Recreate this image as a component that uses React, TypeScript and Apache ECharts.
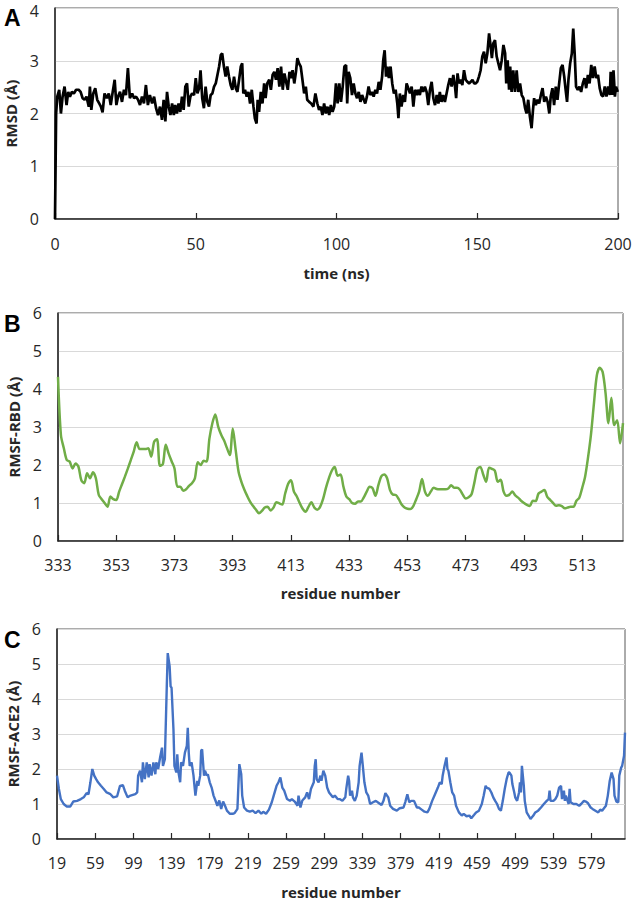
import React, { useEffect, useRef } from "react";
import * as echarts from "echarts";

// ---------- Panel A: RMSD over time ----------
const rmsdTime = [
  0, 0.4, 0.8, 1.5, 2.1, 2.7, 3.4, 4.1, 4.7, 5.3, 6.0, 6.7, 7.5, 8.4, 9.1, 9.8, 10.5, 11.2, 12.0, 12.4,
  12.9, 13.6, 14.3, 15.0, 15.7, 16.3, 16.9, 17.6, 18.4, 19.1, 19.8, 20.5, 21.2, 21.8, 22.4, 23.1, 23.8, 24.5, 25.2, 25.9,
  26.6, 27.4, 28.1, 28.8, 29.5, 30.2, 30.9, 31.6, 32.3, 33.0, 33.7, 34.5, 35.2, 35.9, 36.6, 37.3, 38.0, 38.6, 39.2, 39.8,
  40.4, 41.0, 41.6, 42.2, 42.7, 43.3, 43.9, 44.5, 45.1, 45.7, 46.3, 46.9, 47.5, 48.1, 48.7, 49.4, 50.0, 50.6, 51.2, 51.7,
  52.3, 52.9, 53.5, 54.1, 54.7, 55.3, 55.9, 56.5, 57.1, 57.7, 58.3, 58.9, 59.4, 60.0, 60.6, 61.2, 61.8, 62.4, 63.0, 63.6,
  64.2, 64.8, 65.4, 66.0, 66.5, 66.9, 67.5, 68.1, 68.7, 69.3, 69.9, 70.5, 71.0, 71.6, 72.0, 72.5, 73.1, 73.7, 74.3, 74.8,
  75.4, 76.1, 76.7, 77.3, 77.9, 78.5, 79.1, 79.7, 80.3, 80.9, 81.5, 82.1, 82.7, 83.3, 83.8, 84.4, 85.0, 85.6, 86.1, 86.7,
  87.3, 87.9, 88.5, 89.1, 89.6, 90.3, 91.0, 91.8, 92.5, 93.2, 93.8, 94.4, 95.0, 95.6, 96.2, 96.8, 97.4, 98.0, 98.6, 99.2,
  99.8, 100.4, 101.0, 101.6, 102.2, 102.8, 103.4, 103.8, 104.3, 104.9, 105.5, 106.1, 106.7, 107.3, 107.9, 108.5, 109.1, 109.7, 110.2, 110.8,
  111.4, 112.0, 112.6, 113.2, 113.8, 114.4, 115.0, 115.6, 116.2, 116.6, 117.1, 117.6, 118.1, 118.6, 119.2, 119.8, 120.4, 121.0, 121.6, 122.0,
  122.5, 123.1, 123.7, 124.3, 124.9, 125.5, 126.1, 126.7, 127.3, 127.9, 128.5, 129.0, 129.6, 130.2, 130.8, 131.4, 132.0, 132.6, 133.2, 133.8,
  134.4, 135.0, 135.6, 136.2, 136.7, 137.3, 137.9, 138.5, 139.1, 139.7, 140.3, 140.9, 141.5, 142.1, 142.5, 143.0, 143.5, 144.1, 144.7, 145.3,
  145.9, 146.5, 147.1, 147.7, 148.3, 148.9, 149.4, 150.0, 150.6, 151.2, 151.8, 152.4, 153.0, 153.6, 154.2, 154.7, 155.2, 155.7, 156.3, 156.9,
  157.5, 158.1, 158.7, 159.3, 159.9, 160.3, 160.8, 161.3, 161.7, 162.2, 162.8, 163.4, 164.0, 164.6, 165.2, 165.8, 166.4, 167.0, 167.5, 168.1,
  168.7, 169.3, 169.8, 170.2, 170.8, 171.4, 172.0, 172.6, 173.2, 173.8, 174.4, 175.0, 175.6, 176.1, 176.7, 177.3, 177.9, 178.5, 179.1, 179.7,
  180.3, 180.9, 181.4, 181.9, 182.4, 183.0, 183.6, 184.1, 184.6, 185.1, 185.7, 186.3, 186.9, 187.5, 188.1, 188.7, 189.3, 189.9, 190.5, 191.1,
  191.7, 192.3, 192.9, 193.5, 194.1, 194.7, 195.3, 195.9, 196.5, 197.1, 197.4, 197.9, 198.4, 198.9, 199.3, 199.9,
];
const rmsdValue = [
  0, 2.0, 2.32, 2.45, 2.0, 2.32, 2.51, 2.16, 2.41, 2.32, 2.41, 2.38, 2.45, 2.45, 2.41, 2.29, 2.26, 2.32, 2.13, 2.51,
  2.07, 2.38, 2.48, 2.26, 2.19, 2.13, 2.02, 2.38, 2.29, 2.38, 2.16, 2.41, 2.64, 2.16, 2.32, 2.41, 2.22, 2.45, 2.35, 2.86,
  2.29, 2.38, 2.29, 2.32, 2.26, 2.16, 2.32, 2.19, 2.54, 2.16, 2.35, 2.19, 2.32, 2.10, 1.97, 2.13, 1.88, 2.26, 1.85, 2.41,
  2.13, 1.97, 2.19, 1.97, 2.16, 2.00, 2.19, 2.03, 2.32, 2.07, 2.51, 2.57, 2.13, 2.32, 2.38, 2.35, 2.67, 2.38, 2.48, 2.82,
  2.29, 2.10, 2.51, 2.22, 2.13, 2.35, 2.38, 2.51, 2.57, 2.73, 2.89, 3.11, 3.14, 2.89, 2.70, 2.89, 2.70, 2.54, 2.45, 2.70,
  2.48, 2.41, 2.64, 2.89, 2.95, 2.38, 2.45, 2.32, 2.41, 2.19, 2.45, 2.13, 1.91, 1.81, 2.26, 2.03, 2.41, 2.19, 2.57, 2.29,
  2.57, 2.64, 2.45, 2.73, 2.79, 2.64, 2.86, 2.51, 2.89, 2.45, 2.76, 2.60, 2.45, 2.79, 2.67, 2.82, 2.57, 2.79, 3.05, 2.95,
  2.89, 2.64, 2.38, 2.51, 2.26, 2.22, 2.19, 2.13, 2.38, 2.19, 2.07, 2.13, 1.97, 2.19, 2.00, 2.13, 1.97, 2.16, 2.03, 2.13,
  2.57, 2.19, 2.57, 2.22, 2.51, 2.89, 2.92, 2.19, 2.79, 2.67, 2.35, 2.57, 2.38, 2.29, 2.41, 2.22, 2.35, 2.26, 2.19, 2.32,
  2.51, 2.35, 2.41, 2.32, 2.45, 2.38, 2.60, 2.45, 2.70, 3.01, 3.20, 2.70, 2.89, 2.67, 2.89, 2.57, 2.38, 2.45, 2.19, 1.91,
  2.38, 2.13, 2.35, 2.22, 2.57, 2.48, 2.38, 2.51, 2.13, 2.45, 2.35, 2.45, 2.35, 2.51, 2.41, 2.51, 2.41, 2.16, 2.45, 2.60,
  2.29, 2.16, 2.35, 2.19, 2.41, 2.22, 2.35, 2.22, 2.38, 2.54, 2.67, 2.51, 2.73, 2.51, 2.29, 2.76, 2.57, 2.64, 2.54, 2.82,
  2.64, 2.60, 2.57, 2.60, 2.64, 2.57, 2.57, 2.60, 2.70, 2.82, 3.08, 3.17, 2.95, 3.14, 3.52, 3.30, 3.05, 3.33, 3.39, 3.08,
  2.95, 2.82, 3.01, 3.30, 3.14, 2.57, 3.01, 2.45, 2.89, 2.41, 2.82, 2.41, 2.82, 2.41, 2.57, 2.35, 2.29, 2.10, 2.00, 2.26,
  1.94, 1.72, 2.07, 2.29, 2.16, 2.26, 2.19, 2.35, 2.48, 2.22, 2.32, 2.22, 2.00, 2.32, 2.48, 2.16, 2.51, 2.26, 2.57, 2.86,
  2.92, 2.70, 2.45, 2.22, 2.64, 2.95, 3.14, 3.61, 3.14, 2.51, 2.45, 2.51, 2.41, 2.57, 2.67, 2.48, 2.73, 2.57, 2.92, 2.67,
  2.89, 2.67, 2.73, 2.48, 2.35, 2.32, 2.51, 2.32, 2.51, 2.35, 2.79, 2.35, 2.82, 2.32, 2.51, 2.41,
];
const timeTicks = [0, 50, 100, 150, 200];

// ---------- Panel B: RMSF of RBD (residues 333..527) ----------
const rbdStart = 333;
const rbdRmsf = [
  4.32, 2.79, 2.44, 2.13, 2.09, 1.91, 2.04, 1.96, 1.6, 1.52, 1.78, 1.65, 1.81, 1.65, 1.21, 1.1, 1.0, 0.9, 1.17, 1.1,
  1.08, 1.3, 1.5, 1.7, 1.91, 2.13, 2.35, 2.6, 2.42, 2.42, 2.42, 2.44, 2.22, 2.61, 2.68, 1.98, 2.02, 2.53, 2.3, 2.1,
  1.91, 1.43, 1.43, 1.32, 1.36, 1.45, 1.52, 1.65, 2.07, 2.0, 2.11, 2.09, 2.7, 3.1, 3.33, 3.01, 2.8, 2.65, 2.45, 2.26,
  2.96, 2.4, 1.82, 1.55, 1.35, 1.18, 1.03, 0.92, 0.82, 0.73, 0.79, 0.88, 0.9, 0.8, 0.88, 1.02, 0.99, 0.96, 1.25, 1.5,
  1.6, 1.3, 1.17, 1.0, 0.85, 0.77, 0.9, 1.02, 0.88, 0.82, 0.9, 1.1, 1.4, 1.65, 1.85, 1.95, 1.72, 1.75, 1.43, 1.17,
  1.1, 1.0, 0.98, 1.04, 1.04, 1.15, 1.3, 1.43, 1.39, 1.19, 1.47, 1.7, 1.75, 1.65, 1.34, 1.22, 1.21, 1.1, 0.96, 0.88,
  0.85, 0.84, 0.92, 1.1, 1.3, 1.63, 1.3, 1.19, 1.3, 1.4, 1.37, 1.36, 1.36, 1.36, 1.38, 1.47, 1.4, 1.4, 1.35, 1.22,
  1.12, 1.15, 1.23, 1.55, 1.9, 1.95, 1.75, 1.56, 1.93, 1.9, 1.85, 1.56, 1.61, 1.3, 1.19, 1.22, 1.3, 1.2, 1.14, 1.06,
  1.0, 0.95, 0.92, 1.06, 1.05, 1.25, 1.3, 1.34, 1.16, 1.08, 1.0, 0.93, 0.94, 0.92, 0.86, 0.88, 0.9, 0.9, 1.06, 1.14,
  1.4, 1.7, 2.2, 2.8, 3.6, 4.35, 4.56, 4.45, 3.9, 3.1, 3.77, 3.05, 3.18, 2.57, 3.1,
];
const rbdTicks = [333, 353, 373, 393, 413, 433, 453, 473, 493, 513];

// ---------- Panel C: RMSF of ACE2 ----------
const ace2Residue = [
  19, 21, 23, 26, 29, 33, 36, 40, 44, 47, 50, 52, 54, 56, 58, 60, 62, 65, 68, 71,
  75, 78, 82, 85, 88, 90, 93, 96, 101, 103, 104, 106, 108, 109, 111, 113, 115, 116, 118, 120,
  122, 123, 125, 127, 129, 130, 132, 134, 135, 137, 138, 139, 141, 142, 144, 145, 146, 148, 149, 151,
  153, 155, 156, 157, 158, 160, 162, 163, 164, 166, 167, 169, 170, 171, 173, 174, 176, 177, 179, 181,
  183, 185, 187, 189, 191, 193, 195, 197, 200, 203, 205, 208, 209, 210, 212, 213, 215, 218, 221, 224,
  227, 230, 233, 235, 238, 241, 244, 246, 249, 251, 253, 255, 257, 260, 263, 265, 268, 271, 272, 274,
  276, 279, 281, 283, 285, 288, 289, 290, 291, 293, 295, 296, 298, 300, 302, 304, 308, 310, 313, 315,
  318, 321, 322, 324, 325, 326, 328, 329, 331, 333, 335, 336, 338, 339, 341, 343, 345, 347, 350, 353,
  356, 359, 361, 363, 366, 368, 371, 375, 378, 382, 384, 386, 388, 390, 393, 396, 398, 401, 404, 407,
  409, 412, 415, 418, 420, 422, 423, 425, 427, 428, 429, 431, 433, 435, 437, 440, 443, 445, 448, 451,
  453, 456, 458, 461, 464, 466, 468, 469, 472, 474, 476, 478, 480, 482, 484, 486, 488, 490, 492, 493,
  495, 496, 498, 499, 501, 503, 504, 505, 506, 508, 509, 511, 513, 515, 518, 520, 523, 526, 529, 532,
  534, 535, 536, 539, 541, 543, 545, 547, 548, 550, 551, 552, 555, 556, 557, 560, 563, 566, 568, 571,
  573, 575, 578, 580, 583, 586, 588, 590, 592, 594, 596, 598, 600, 602, 603, 605, 607, 608, 610, 611,
  613, 614,
];
const ace2Rmsf = [
  1.81, 1.43, 1.14, 1.0, 0.93, 0.93, 1.07, 1.09, 1.14, 1.19, 1.31, 1.28, 1.62, 2.0, 1.81, 1.71, 1.62, 1.52, 1.43, 1.33,
  1.28, 1.19, 1.22, 1.52, 1.54, 1.38, 1.19, 1.24, 1.28, 1.33, 1.81, 1.95, 1.62, 2.19, 1.71, 2.19, 1.76, 2.14, 1.81, 2.19,
  1.85, 2.19, 2.0, 2.33, 2.61, 2.09, 2.28, 4.36, 5.31, 4.93, 4.36, 4.32, 3.13, 2.09, 1.9, 2.42, 1.95, 1.62, 2.19, 2.09,
  2.47, 2.66, 3.18, 2.47, 2.09, 2.19, 1.81, 1.52, 1.24, 1.66, 1.52, 1.81, 2.52, 2.56, 1.81, 1.95, 1.81, 1.85, 1.62, 1.47,
  1.24, 1.1, 0.95, 1.1, 0.86, 1.07, 0.95, 0.81, 0.72, 0.72, 0.74, 0.86, 1.52, 2.14, 1.85, 1.24, 0.9, 0.81, 0.78, 0.81,
  0.74, 0.81, 0.72, 0.78, 0.72, 0.84, 1.05, 1.24, 1.52, 1.62, 1.76, 1.47, 1.38, 1.14, 1.09, 1.14, 1.07, 0.95, 1.24, 0.9,
  1.1, 1.19, 1.33, 1.14, 1.43, 1.62, 2.09, 2.28, 1.71, 1.62, 1.81, 1.66, 1.95, 1.81, 1.47, 1.33, 1.19, 1.24, 1.14, 1.14,
  1.09, 1.19, 1.43, 1.81, 1.66, 1.24, 1.38, 1.19, 1.09, 1.24, 1.62, 2.09, 2.47, 2.19, 1.62, 1.33, 1.24, 1.0, 1.05, 1.09,
  1.03, 0.97, 1.09, 1.31, 1.19, 0.95, 0.86, 0.81, 0.88, 0.9, 1.07, 1.28, 1.05, 1.09, 1.09, 0.9, 0.9, 0.84, 0.78, 0.76,
  0.86, 1.09, 1.28, 1.47, 1.62, 1.57, 1.81, 2.09, 2.33, 2.0, 1.95, 1.62, 1.33, 1.24, 0.95, 0.76, 0.67, 0.72, 0.65, 0.67,
  0.59, 0.69, 0.76, 0.81, 1.0, 1.24, 1.52, 1.47, 1.43, 1.33, 1.19, 1.09, 1.0, 0.86, 0.81, 1.09, 1.43, 1.71, 1.9, 1.9,
  1.81, 1.57, 1.33, 1.19, 1.09, 1.33, 1.62, 1.33, 2.09, 1.52, 1.09, 0.76, 0.67, 0.57, 0.67, 0.76, 0.81, 0.9, 1.0, 1.09,
  1.14, 1.38, 1.09, 1.09, 1.14, 1.24, 1.47, 1.52, 1.14, 1.38, 1.09, 1.24, 1.0, 1.43, 1.05, 1.0, 1.0, 0.95, 1.0, 1.09,
  1.07, 1.03, 0.9, 0.86, 0.81, 0.76, 0.84, 0.81, 0.88, 0.95, 1.24, 1.66, 1.9, 1.71, 1.24, 1.07, 1.05, 1.81, 2.04, 2.09,
  2.38, 3.04,
];
const ace2Ticks = [19, 59, 99, 139, 179, 219, 259, 299, 339, 379, 419, 459, 499, 539, 579];

const panelLetters = ["A", "B", "C"];
const axisNamesX = ["time (ns)", "residue number", "residue number"];
const axisNamesY = ["RMSD (Å)", "RMSF-RBD (Å)", "RMSF-ACE2 (Å)"];

const FONT = "'Open Sans', 'Noto Sans', sans-serif";
const TEXT = "#262626";
const AXIS = "#262626";
const GRIDLINE = "#d9d9d9";

function App() {
  const ref = useRef<HTMLDivElement>(null);

  useEffect(() => {
    document.body.style.margin = "0";
    if (!ref.current) return;
    const chart = echarts.init(ref.current, null, { renderer: "svg" });

    const grids = [
      { left: 55, top: 8, width: 563, height: 211 },
      { left: 58, top: 313, width: 565, height: 228 },
      { left: 57, top: 629, width: 568, height: 210 },
    ].map((g) => ({
      ...g,
      show: true,
      borderColor: "#595959",
      borderWidth: 1,
      containLabel: false,
      outerBoundsMode: "none",
    }));

    const labelStyle = { fontFamily: FONT, fontSize: 16, lineHeight: 14, color: TEXT };
    const nameStyle = { fontFamily: FONT, fontSize: 15, lineHeight: 15, fontWeight: "bold", color: TEXT };
    const axisLine = { show: true, onZero: false, lineStyle: { color: AXIS, width: 1.5 } };
    const tickStyle = { show: true, inside: true, length: 6, lineStyle: { color: AXIS, width: 1.2 } };

    const xAxis: any[] = [
      {
        gridIndex: 0, type: "value", min: timeTicks[0], max: timeTicks[timeTicks.length - 1], interval: 50,
        axisLine, axisTick: tickStyle, splitLine: { show: false },
        axisLabel: { ...labelStyle, margin: 18 },
        name: axisNamesX[0], nameLocation: "middle", nameGap: 46, nameTextStyle: nameStyle,
      },
      {
        gridIndex: 1, type: "value", min: 333, max: 527,
        axisLine,
        axisTick: { ...tickStyle, customValues: rbdTicks },
        splitLine: { show: false },
        axisLabel: { ...labelStyle, margin: 17, customValues: rbdTicks },
        name: axisNamesX[1], nameLocation: "middle", nameGap: 44, nameTextStyle: nameStyle,
      },
      {
        gridIndex: 2, type: "value", min: 19, max: 614,
        axisLine,
        axisTick: { ...tickStyle, customValues: ace2Ticks },
        splitLine: { show: false },
        axisLabel: { ...labelStyle, margin: 17, customValues: ace2Ticks },
        name: axisNamesX[2], nameLocation: "middle", nameGap: 45, nameTextStyle: nameStyle,
      },
    ];

    const yMax = [4, 6, 6];
    const yGap = [35, 34.5, 34];
    const yAxis: any[] = yMax.map((mx, i) => ({
      gridIndex: i, type: "value", min: 0, max: mx, interval: 1,
      axisLine,
      axisTick: { show: false },
      splitLine: { show: true, lineStyle: { color: GRIDLINE, width: 1 } },
      axisLabel: i === 0
        ? {
            ...labelStyle, margin: 16,
            formatter: (v: number) => (v === mx ? "{top|" + v + "}" : String(v)),
            rich: { top: { fontFamily: FONT, fontSize: 16, lineHeight: 14, color: TEXT, padding: [6, 0, 0, 0] } },
          }
        : { ...labelStyle, margin: 16 },
      name: axisNamesY[i], nameLocation: "middle", nameGap: yGap[i], nameTextStyle: nameStyle,
    }));

    const series: any[] = [
      {
        type: "line", xAxisIndex: 0, yAxisIndex: 0,
        data: rmsdTime.map((t, i) => [t, rmsdValue[i]]),
        showSymbol: false, symbol: "none",
        lineStyle: { color: "#000000", width: 2.7 }, itemStyle: { color: "#000000" },
      },
      {
        type: "line", xAxisIndex: 1, yAxisIndex: 1,
        data: rbdRmsf.map((v, i) => [rbdStart + i, v]),
        showSymbol: false, symbol: "none", smooth: 0.3,
        lineStyle: { color: "#70ad47", width: 2.5 }, itemStyle: { color: "#70ad47" },
      },
      {
        type: "line", xAxisIndex: 2, yAxisIndex: 2,
        data: ace2Residue.map((r, i) => [r, ace2Rmsf[i]]),
        showSymbol: false, symbol: "none",
        lineStyle: { color: "#4472c4", width: 2.4 }, itemStyle: { color: "#4472c4" },
      },
    ];

    const letterY = [17.5, 323.5, 639.5];
    const graphic = panelLetters.map((l, i) => ({
      type: "text",
      x: 4,
      y: letterY[i],
      style: {
        text: l,
        fontFamily: "'Liberation Sans', Arial, sans-serif",
        fontWeight: "bold",
        fontSize: 23,
        fill: "#000",
        align: "left",
        verticalAlign: "middle",
      },
    }));

    chart.setOption({
      animation: false,
      backgroundColor: "#ffffff",
      grid: grids,
      xAxis,
      yAxis,
      series,
      graphic,
    });

    return () => chart.dispose();
  }, []);

  return <div ref={ref} style={{ width: 633, height: 900 }} />;
}

export default App;
